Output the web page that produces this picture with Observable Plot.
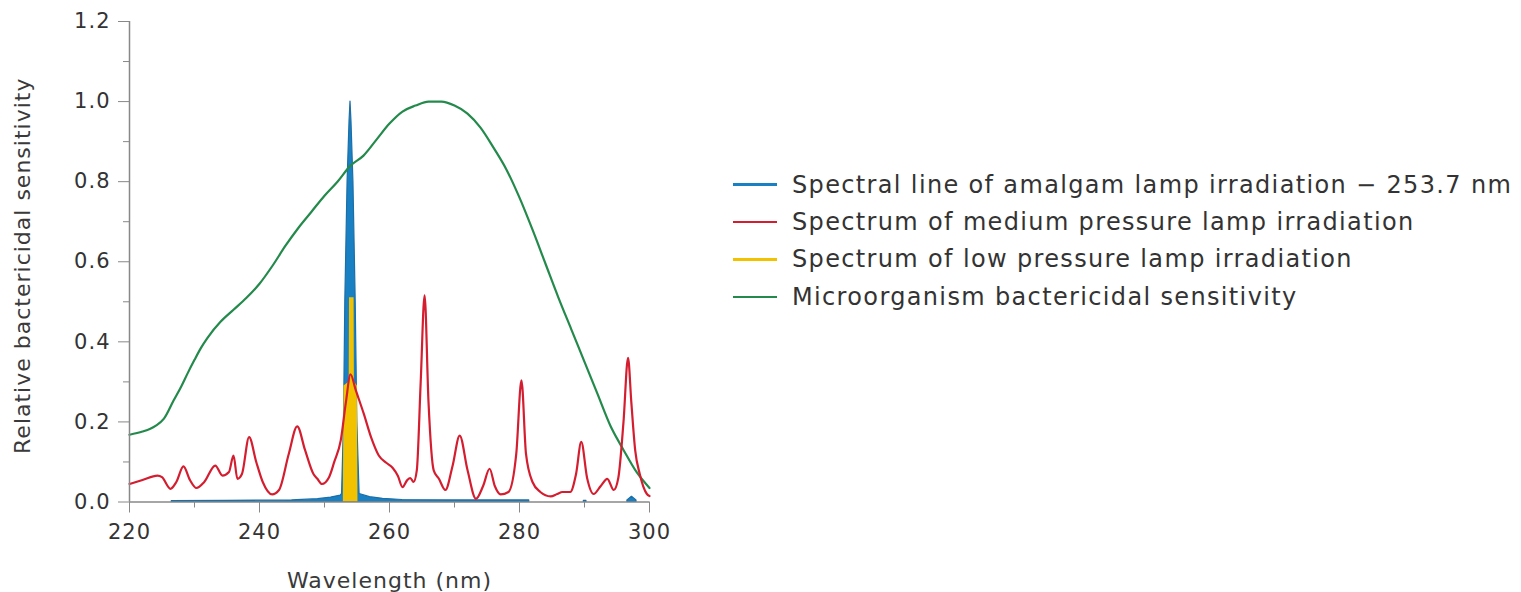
<!DOCTYPE html>
<html><head><meta charset="utf-8">
<script src="https://cdn.jsdelivr.net/npm/d3@7"></script>
<script src="https://cdn.jsdelivr.net/npm/@observablehq/plot@0.6"></script>
<style>
body{margin:0;background:#fff;font-family:"DejaVu Sans",sans-serif;}
#wrap{position:relative;width:1521px;height:592px;overflow:hidden;}
#chart svg text{letter-spacing:1px;}
#legend{position:absolute;left:733px;top:166px;color:#333;font-size:24px;letter-spacing:1.35px;}
.row{display:flex;align-items:center;height:37.4px;white-space:nowrap;}
.sw{width:44px;height:2.5px;margin-right:15px;flex:none;}
</style></head><body>
<div id="wrap"><div id="chart"></div><div id="legend"></div></div>
<script>
// Microorganism bactericidal sensitivity (green)
const greenX = [220,222,223.2,224,225.3,226.8,228,228.9,230,231,232,234,236,238,240,242,244,246,248,250,252,254,256,258,260,262,264,266,268,270,272,274,276,278,280,282,284,286,288,290,292,294,295.3,296,298,300];
const greenY = [0.168,0.176,0.183,0.19,0.208,0.254,0.29,0.32,0.355,0.385,0.41,0.45,0.48,0.51,0.545,0.59,0.64,0.685,0.725,0.765,0.80,0.84,0.865,0.905,0.945,0.975,0.99,1.0,1.0,0.99,0.97,0.935,0.885,0.83,0.76,0.68,0.595,0.51,0.43,0.35,0.27,0.19,0.15,0.13,0.075,0.035];

// Spectrum of medium pressure lamp irradiation (red)
const redX = [220,222,224.3,225,226.3,227.2,228.3,229.3,230.3,231.5,233.2,234.3,235.3,236.0,236.6,237.3,238.4,239.5,240.5,241.95,243,244.5,245.8,247,248.3,248.9,249.6,250.7,251.5,252.5,253.3,254.0,254.8,256.05,257.2,258.35,259.5,260.5,261.3,262.0,262.7,263.2,263.7,264.2,264.8,265.4,266.0,266.8,267.6,268.6,269.7,270.8,272,273.3,274.4,275.4,276.2,277.1,278.3,279.5,280.3,281,282,283.2,284.8,285.8,286.6,287.8,288.7,289.5,290.4,291.4,292.5,293.5,294.5,295.2,296.0,296.7,297.2,297.8,298.5,299.6,300];
const redY = [0.045,0.055,0.066,0.062,0.033,0.05,0.089,0.055,0.035,0.05,0.091,0.066,0.075,0.116,0.058,0.07,0.162,0.10,0.05,0.019,0.03,0.12,0.189,0.13,0.07,0.058,0.045,0.062,0.1,0.154,0.25,0.319,0.28,0.22,0.16,0.116,0.098,0.085,0.065,0.037,0.054,0.06,0.05,0.079,0.3,0.516,0.25,0.079,0.058,0.030,0.09,0.166,0.08,0.008,0.04,0.083,0.04,0.019,0.025,0.12,0.304,0.12,0.05,0.025,0.014,0.02,0.025,0.025,0.07,0.15,0.06,0.020,0.04,0.058,0.030,0.06,0.2,0.36,0.25,0.129,0.07,0.02,0.015];

// Spectrum of low pressure lamp irradiation (yellow)
const yellowX = [252.9,253.0,253.8,253.85,254.55,254.6,255.05,255.15];
const yellowY = [0,0.29,0.30,0.51,0.51,0.30,0.29,0];

// Spectral line of amalgam lamp irradiation – 253.7 nm (blue), with segment ids
const blueX = [226.5,235,245,249,251,252.5,252.7,253.0,253.2,253.55,253.85,254.0,254.15,254.45,254.8,255.05,255.4,257,259,262,270,281.5, 289.9,290.3, 296.6,297.3,298.0];
const blueY = [0.002,0.003,0.004,0.007,0.011,0.016,0.02,0.2,0.5,0.8,0.95,1.0,0.95,0.8,0.5,0.2,0.02,0.012,0.008,0.005,0.004,0.004, 0.003,0.003, 0.004,0.013,0.004];
const blueSeg = [1,1,1,1,1,1,1,1,1,1,1,1,1,1,1,1,1,1,1,1,1,1, 2,2, 3,3,3];

const yTicks = [0,0.2,0.4,0.6,0.8,1.0,1.2];
const yMinor = [0.1,0.3,0.5,0.7,0.9,1.1];
const xTicks = [220,240,260,280,300];
const xMinor = [230,250,270,290];

const seriesNames = ["Spectral line of amalgam lamp irradiation \u2212 253.7 nm","Spectrum of medium pressure lamp irradiation","Spectrum of low pressure lamp irradiation","Microorganism bactericidal sensitivity"];
const seriesColors = ["#1a80c4","#d41e30","#f2c200","#248a4c"];

const green = greenX.map((x,i)=>({x, y:greenY[i]}));
const red = redX.map((x,i)=>({x, y:redY[i]}));
const yellow = yellowX.map((x,i)=>({x, y:yellowY[i]}));
const blue = blueX.map((x,i)=>({x, y:blueY[i], s:blueSeg[i]}));

const axisGray = "#888";
const chart = Plot.plot({
  width: 700, height: 592,
  marginLeft: 129, marginRight: 51, marginTop: 21, marginBottom: 90.5,
  style: {fontFamily: "DejaVu Sans", fontSize: "21px", color: "#333", background: "#fff", overflow: "visible"},
  x: {domain: [220,300]},
  y: {domain: [0,1.2]},
  marks: [
    Plot.areaY(blue, {x:"x", y1:0, y2:"y", z:"s", fill:seriesColors[0], stroke:"#1b6ea6", strokeWidth:1.2}),
    Plot.areaY(yellow, {x:"x", y1:0, y2:"y", fill:seriesColors[2]}),
    Plot.line(green, {x:"x", y:"y", stroke:seriesColors[3], strokeWidth:2.2, curve:"monotone-x"}),
    Plot.line(red, {x:"x", y:"y", stroke:seriesColors[1], strokeWidth:2.2, curve:"monotone-x"}),
    Plot.ruleY([0], {stroke: axisGray, strokeWidth:1.5}),
    Plot.ruleX([220], {stroke: axisGray, strokeWidth:1.5}),
    Plot.axisX({ticks: xTicks, tickSize: 11, tickPadding: 11, stroke: axisGray, fill:"#333", fontSize: 21, tickFormat: d => String(d), label: null}),
    Plot.axisX({ticks: xMinor, tickSize: 6, text: null, stroke: axisGray, label: null}),
    Plot.axisY({ticks: yTicks, tickSize: 11, tickPadding: 8, stroke: axisGray, fill:"#333", fontSize: 21, tickFormat: d3.format(".1f"), label: null}),
    Plot.axisY({ticks: yMinor, tickSize: 6, text: null, stroke: axisGray, label: null}),
    Plot.text(["Wavelength (nm)"], {frameAnchor:"bottom", dy: 86, lineAnchor:"bottom", fontSize: 22, fill:"#3a3a3a"}),
    Plot.text(["Relative bactericidal sensitivity"], {frameAnchor:"left", dx: -115, dy: 4, rotate: -90, lineAnchor:"top", textAnchor:"middle", fontSize: 22, fill:"#3a3a3a"})
  ]
});
document.getElementById("chart").appendChild(chart);

const legend = document.getElementById("legend");
seriesNames.forEach((name,i)=>{
  const row = document.createElement("div"); row.className="row";
  const sw = document.createElement("div"); sw.className="sw"; sw.style.background = seriesColors[i];
  const t = document.createElement("span"); t.textContent = name;
  row.appendChild(sw); row.appendChild(t); legend.appendChild(row);
});
</script>
</body></html>
